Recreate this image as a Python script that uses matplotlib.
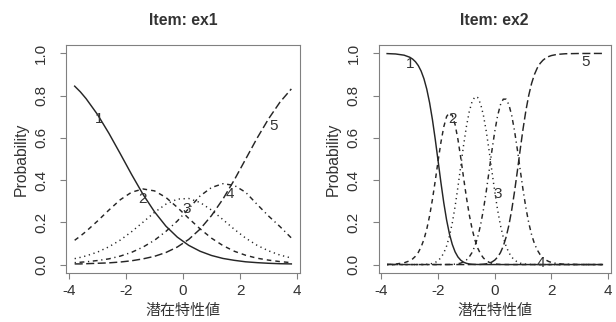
import matplotlib
matplotlib.use("Agg")
import matplotlib.pyplot as plt

plt.rcParams['font.family'] = ['Liberation Sans', 'Noto Sans CJK JP', 'DejaVu Sans']
plt.rcParams['lines.scale_dashes'] = False

# ---- values ----------------------------------------------------------------
ex1_theta = [-3.8, -3.6, -3.4, -3.0, -2.6, -2.2, -1.8, -1.4, -1.0, -0.6, -0.2,
             0.2, 0.6, 1.0, 1.4, 1.8, 2.2, 2.6, 3.0, 3.4, 3.8]
ex1_p1 = [0.845, 0.818, 0.786, 0.711, 0.622, 0.525, 0.426, 0.332, 0.250, 0.182, 0.130,
          0.091, 0.063, 0.043, 0.029, 0.020, 0.013, 0.009, 0.006, 0.004, 0.003]
ex1_p2 = [0.115, 0.135, 0.157, 0.206, 0.258, 0.307, 0.343, 0.358, 0.349, 0.318, 0.271,
          0.219, 0.169, 0.125, 0.090, 0.063, 0.044, 0.030, 0.021, 0.014, 0.009]
ex1_p3 = [0.028, 0.034, 0.041, 0.059, 0.084, 0.116, 0.156, 0.201, 0.247, 0.286, 0.310,
          0.313, 0.294, 0.258, 0.213, 0.167, 0.125, 0.091, 0.065, 0.045, 0.031]
ex1_p4 = [0.009, 0.011, 0.013, 0.019, 0.027, 0.040, 0.058, 0.083, 0.115, 0.157, 0.206,
          0.265, 0.325, 0.365, 0.383, 0.375, 0.342, 0.285, 0.230, 0.180, 0.126]
ex1_p5 = [0.003, 0.003, 0.004, 0.006, 0.008, 0.012, 0.018, 0.027, 0.039, 0.057, 0.083,
          0.119, 0.168, 0.232, 0.310, 0.401, 0.500, 0.599, 0.690, 0.769, 0.832]

ex2_theta = [-3.8, -3.5, -3.2, -3.0, -2.9, -2.8, -2.7, -2.6, -2.5, -2.4,
             -2.3, -2.2, -2.1, -2.0, -1.9, -1.8, -1.7, -1.6, -1.5, -1.4,
             -1.3, -1.2, -1.1, -1.0, -0.9, -0.8, -0.7, -0.6, -0.5, -0.4,
             -0.3, -0.2, -0.1, 0.0, 0.1, 0.2, 0.3, 0.4, 0.5, 0.6,
             0.7, 0.8, 0.9, 1.0, 1.1, 1.2, 1.3, 1.4, 1.5, 1.6,
             1.7, 1.8, 1.9, 2.0, 2.2, 2.5, 3.0, 3.5, 3.8]
ex2_p1 = [0.9993, 0.9975, 0.9918, 0.9820, 0.9734, 0.9608, 0.9426, 0.9166, 0.8803, 0.8310,
          0.7665, 0.6864, 0.5927, 0.4908, 0.3883, 0.2931, 0.2112, 0.1454, 0.0957, 0.0601,
          0.0361, 0.0206, 0.0112, 0.0058, 0.0029, 0.0014, 0.0006, 0.0003, 0.0001, 0.0,
          0.0, 0.0, 0.0, 0.0, 0.0, 0.0, 0.0, 0.0, 0.0, 0.0,
          0.0, 0.0, 0.0, 0.0, 0.0, 0.0, 0.0, 0.0, 0.0, 0.0,
          0.0, 0.0, 0.0, 0.0, 0.0, 0.0, 0.0, 0.0, 0.0]
ex2_p2 = [0.0007, 0.0025, 0.0082, 0.0180, 0.0266, 0.0392, 0.0573, 0.0831, 0.1191, 0.1678,
          0.2309, 0.3084, 0.3973, 0.4908, 0.5792, 0.6522, 0.7011, 0.7200, 0.7069, 0.6630,
          0.5932, 0.5056, 0.4106, 0.3183, 0.2364, 0.1689, 0.1165, 0.0777, 0.0501, 0.0312,
          0.0187, 0.0107, 0.0059, 0.0031, 0.0015, 0.0007, 0.0003, 0.0002, 0.0001, 0.0,
          0.0, 0.0, 0.0, 0.0, 0.0, 0.0, 0.0, 0.0, 0.0, 0.0,
          0.0, 0.0, 0.0, 0.0, 0.0, 0.0, 0.0, 0.0, 0.0]
ex2_p3 = [0.0, 0.0, 0.0, 0.0, 0.0, 0.0001, 0.0001, 0.0003, 0.0006, 0.0013,
          0.0026, 0.0052, 0.0100, 0.0185, 0.0325, 0.0546, 0.0876, 0.1342, 0.1965, 0.2750,
          0.3671, 0.4668, 0.5655, 0.6540, 0.7246, 0.7723, 0.7946, 0.7909, 0.7612, 0.7069,
          0.6313, 0.5403, 0.4421, 0.3458, 0.2591, 0.1865, 0.1295, 0.0868, 0.0562, 0.0351,
          0.0211, 0.0122, 0.0067, 0.0036, 0.0018, 0.0009, 0.0004, 0.0002, 0.0001, 0.0,
          0.0, 0.0, 0.0, 0.0, 0.0, 0.0, 0.0, 0.0, 0.0]
ex2_p4 = [0.0, 0.0, 0.0, 0.0, 0.0, 0.0, 0.0, 0.0, 0.0, 0.0,
          0.0, 0.0, 0.0, 0.0, 0.0, 0.0001, 0.0002, 0.0004, 0.0009, 0.0019,
          0.0037, 0.0070, 0.0127, 0.0218, 0.0361, 0.0574, 0.0880, 0.1307, 0.1877, 0.2601,
          0.3465, 0.4424, 0.5400, 0.6301, 0.7043, 0.7565, 0.7834, 0.7835, 0.7571, 0.7054,
          0.6320, 0.5431, 0.4471, 0.3531, 0.2685, 0.1976, 0.1418, 0.0997, 0.0691, 0.0474,
          0.0323, 0.0219, 0.0148, 0.0100, 0.0045, 0.0014, 0.0002, 0.0, 0.0]
ex2_p5 = [0.0, 0.0, 0.0, 0.0, 0.0, 0.0, 0.0, 0.0, 0.0, 0.0,
          0.0, 0.0, 0.0, 0.0, 0.0, 0.0, 0.0, 0.0, 0.0, 0.0,
          0.0, 0.0, 0.0, 0.0, 0.0, 0.0001, 0.0002, 0.0004, 0.0008, 0.0018,
          0.0035, 0.0066, 0.0121, 0.0210, 0.0351, 0.0562, 0.0868, 0.1295, 0.1867, 0.2595,
          0.3469, 0.4447, 0.5461, 0.6434, 0.7297, 0.8015, 0.8578, 0.9001, 0.9308, 0.9526,
          0.9677, 0.9781, 0.9852, 0.9900, 0.9955, 0.9986, 0.9998, 1.0, 1.0]

categories = ['1', '2', '3', '4', '5']
# where the category numbers sit on each panel
ex1_label_x = [-2.94, -1.41, 0.12, 1.66, 3.19]
ex1_label_y = [0.69, 0.31, 0.265, 0.336, 0.655]
ex2_label_x = [-3.0, -1.49, 0.12, 1.64, 3.19]
ex2_label_y = [0.952, 0.69, 0.332, 0.008, 0.96]

for arr in (ex1_p1, ex1_p2, ex1_p3, ex1_p4, ex1_p5):
    assert len(arr) == len(ex1_theta)
for arr in (ex2_p1, ex2_p2, ex2_p3, ex2_p4, ex2_p5):
    assert len(arr) == len(ex2_theta)

# R lty 1..5: solid, dashed, dotted, dotdash, longdash (dash lengths in pt)
LINE_STYLES = ['-', (0, (3.3, 2.9)), (0, (0.9, 2.6)),
               (0, (0.9, 2.6, 3.5, 2.6)), (0, (5.8, 2.5))]
LINE_COL = '#262626'
BOX_COL = '#808080'
TXT_COL = '#333333'

W, H = 616, 322
fig = plt.figure(figsize=(W / 100, H / 100), dpi=100)
ax1 = fig.add_axes([66 / W, 1 - 273 / H, 234 / W, 228 / H])
ax2 = fig.add_axes([378.5 / W, 1 - 273 / H, 232.5 / W, 228 / H])

panels = [
    (ax1, 'Item: ex1', ex1_theta, [ex1_p1, ex1_p2, ex1_p3, ex1_p4, ex1_p5],
     ex1_label_x, ex1_label_y, -0.193),
    (ax2, 'Item: ex2', ex2_theta, [ex2_p1, ex2_p2, ex2_p3, ex2_p4, ex2_p5],
     ex2_label_x, ex2_label_y, -0.196),
]

for ax, title, theta, curves, lx, ly, ylab_x in panels:
    for probs, ls in zip(curves, LINE_STYLES):
        ax.plot(theta, probs, color=LINE_COL, lw=1.05, ls=ls)
    for cat, x, y in zip(categories, lx, ly):
        ax.text(x, y, cat, fontsize=11, color=TXT_COL, ha='center', va='center')

    ax.set_xlim(-4.104, 4.104)
    ax.set_ylim(-0.04, 1.04)
    ax.set_xticks([-4, -2, 0, 2, 4])
    ax.set_xticklabels(['-4', '-2', '0', '2', '4'])
    yt = [0.0, 0.2, 0.4, 0.6, 0.8, 1.0]
    ax.set_yticks(yt)
    ax.set_yticklabels([f'{v:.1f}' for v in yt], rotation=90, va='center')

    for sp in ax.spines.values():
        sp.set_color(BOX_COL)
        sp.set_linewidth(0.8)
    ax.tick_params(axis='both', direction='out', length=4.2, width=0.8,
                   color=BOX_COL, labelcolor=TXT_COL, labelsize=11)
    ax.tick_params(axis='x', pad=3.4)
    ax.tick_params(axis='y', pad=8.5)

    ax.set_xlabel('潜在特性値', fontsize=10.8, color=TXT_COL, va='center')
    ax.xaxis.set_label_coords(0.5, -0.168)
    ax.set_ylabel('Probability', fontsize=11.3, color=TXT_COL, va='center')
    ax.yaxis.set_label_coords(ylab_x, 0.5)
    ax.text(0.5, 1.106, title, transform=ax.transAxes, ha='center', va='center',
            fontsize=11.3, fontweight='bold', color=TXT_COL)

fig.savefig('out.png', dpi=100)
